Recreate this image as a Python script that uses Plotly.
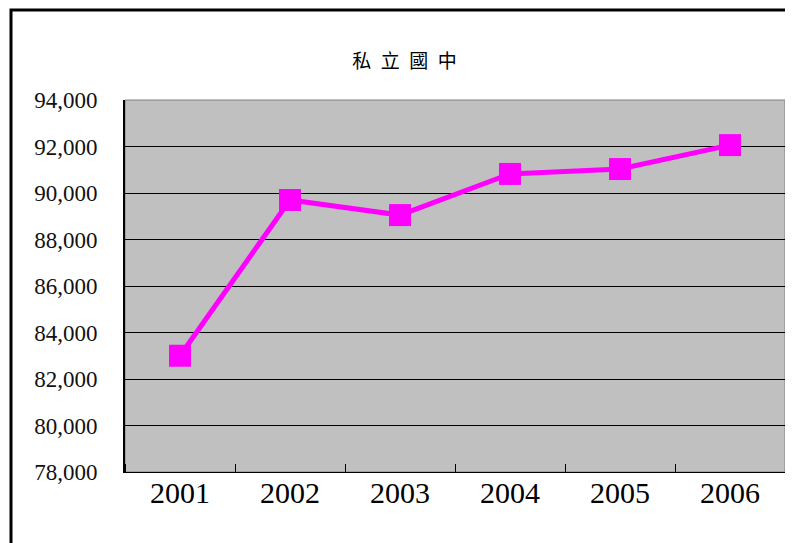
import plotly.graph_objects as go

years = ["2001", "2002", "2003", "2004", "2005", "2006"]
values = [83000, 89700, 89050, 90820, 91030, 92060]
y_ticks = [78000, 80000, 82000, 84000, 86000, 88000, 90000, 92000, 94000]
y_tick_text = [f"{v:,}" for v in y_ticks]
title_text = "私\u2002立\u2002國\u2002中"

xs = list(range(len(years)))

fig = go.Figure()
fig.add_trace(go.Scatter(
    x=xs, y=values, mode="lines+markers",
    line=dict(color="#FF00FF", width=5),
    marker=dict(symbol="square", size=22, color="#FF00FF"),
    showlegend=False, cliponaxis=False,
))

fig.update_layout(
    width=785, height=535,
    margin=dict(l=117, r=8, t=92, b=71),
    paper_bgcolor="white", plot_bgcolor="#C0C0C0",
    title=dict(text=title_text, x=0.505, xanchor="center", y=0.9, yanchor="middle",
               font=dict(family="Noto Sans CJK TC", size=19, color="black")),
    xaxis=dict(
        range=[-0.5, len(years) - 0.5],
        tickmode="array", tickvals=xs, ticktext=years,
        ticks="", showgrid=False, zeroline=False,
        showline=True, linecolor="black", linewidth=1,
        ticklabelstandoff=-6,
        tickfont=dict(family="Liberation Serif", size=30, color="black"),
        minor=dict(ticks="inside", tickmode="linear", tick0=0.5, dtick=1,
                   ticklen=8, tickcolor="black", tickwidth=1, showgrid=False),
    ),
    yaxis=dict(
        range=[78000, 94000],
        tickmode="array", tickvals=y_ticks, ticktext=y_tick_text,
        ticks="", showgrid=True, gridcolor="black", gridwidth=1,
        zeroline=False, showline=True, linecolor="black", linewidth=2,
        ticklabelstandoff=21,
        tickfont=dict(family="Liberation Serif", size=23, color="#111111"),
    ),
    shapes=[
        dict(type="rect", xref="paper", yref="paper", x0=0, x1=1, y0=0, y1=1,
             line=dict(color="#808080", width=1), layer="below"),
        dict(type="rect", xref="paper", yref="paper",
             x0=(11 - 125) / 660, x1=1.2, y0=-0.6, y1=(472 - 10) / 372,
             line=dict(color="black", width=3), fillcolor="rgba(0,0,0,0)"),
    ],
)

fig.write_html("out.html")
